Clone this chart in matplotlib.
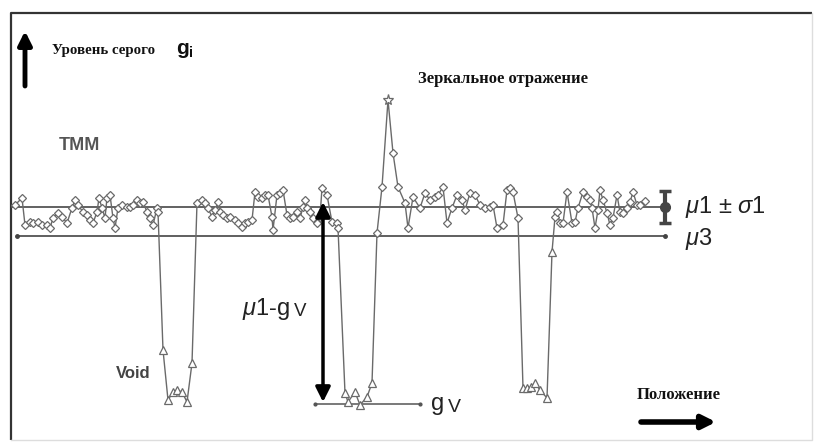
"""Schematic grey-level profile across a weld section: TMM baseline, voids, specular peak."""
import numpy as np
import matplotlib
matplotlib.use("Agg")
import matplotlib.pyplot as plt

plt.rcParams["font.family"] = ["Liberation Sans", "DejaVu Sans"]
plt.rcParams["mathtext.fontset"] = "custom"
plt.rcParams["mathtext.rm"] = "Liberation Sans"
plt.rcParams["mathtext.it"] = "Liberation Sans:italic"
plt.rcParams["mathtext.bf"] = "Liberation Sans:bold"

# position along the line (arb. units) and grey level g_i
POS = [15, 22, 25, 30, 33, 38, 42, 47, 50, 53, 58, 62, 67, 72, 75, 78, 83, 87, 90, 93,
       97, 99, 102, 105, 107, 110, 113, 115, 118, 122, 127, 130, 133, 137, 140, 143, 147,
       150, 153, 157, 158,
       163, 168, 173, 177, 182, 187, 192,
       197, 202, 205, 208, 212, 215, 218, 220, 223, 227, 230, 235, 238, 242, 245, 248, 252,
       255, 258, 262, 265, 268, 272, 273, 277, 280, 283, 287, 290, 293, 297, 300, 303, 305,
       307, 310, 313, 317, 320, 322, 327, 332, 337, 338,
       345, 348, 355, 360, 367, 372,
       377, 382, 388, 393, 398, 405, 408, 413, 420, 425, 430, 435, 438, 443, 447, 452, 457,
       462, 465, 470, 475, 480, 485, 490, 493, 497, 503, 507, 510, 513, 518,
       523, 527, 531, 535, 540, 547, 552,
       555, 557, 560, 563, 567, 572, 575, 578, 583, 587, 590, 592, 595, 598, 600, 603, 607,
       610, 613, 617, 620, 623, 627, 630, 633, 637, 640, 645]
GREY = [238, 245, 218, 221, 220, 221, 218, 218, 215, 225, 230, 226, 220, 235, 243, 238,
        231, 228, 223, 220, 231, 245, 235, 225, 245, 248, 225, 215, 235, 238, 236, 236, 238,
        243, 240, 241, 231, 225, 218, 235, 231,
        93, 43, 51, 53, 51, 41, 80,
        240, 243, 240, 235, 226, 233, 241, 231, 228, 225, 226, 223, 220, 216, 220, 221, 223,
        251, 246, 245, 248, 248, 226, 213, 248, 250, 253, 228, 225, 226, 231, 225, 236, 243,
        235, 231, 225, 220, 226, 255, 248, 221, 220, 215,
        50, 41, 51, 38, 46, 60,
        210, 256, 343, 290, 256, 240, 215, 246, 235, 250, 243, 246, 248, 256, 220, 235, 248,
        243, 233, 250, 248, 238, 235, 236, 238, 215, 218, 253, 255, 251, 225,
        55, 55, 56, 60, 53, 45, 191,
        226, 231, 220, 220, 251, 220, 221, 235, 251, 246, 243, 235, 215, 233, 253, 243, 230,
        218, 225, 248, 231, 230, 235, 241, 251, 238, 238, 242]

MU1, SIGMA1 = 236, 16     # mean +/- std of the TMM grey level
MU3 = 207                 # detection threshold
GV = 39                   # grey level of the void
PEAK_MIN = 300            # above this: specular reflection

pos = np.array(POS)
grey = np.array(GREY)

fig = plt.figure(figsize=(8.16, 4.43), dpi=100)
ax = fig.add_axes([0, 0, 1, 1])
ax.set_xlim(0, 816)
ax.set_ylim(0, 443)
ax.axis("off")

# frame
ax.plot([11, 11, 812], [3, 430, 430], color="#333333", lw=1.6, solid_capstyle="butt")
ax.plot([812, 812, 11], [430, 3, 3], color="#dddddd", lw=1.0)

# reference levels
ax.plot([12, 665], [MU1, MU1], color="#555555", lw=1.3)
ax.plot([17, 665], [MU3, MU3], color="#444444", lw=1.2, marker="o", ms=2.5)
ax.errorbar([665], [MU1], yerr=SIGMA1, fmt="o", ms=7, color="#444444",
            elinewidth=3, capsize=4, capthick=2.5)
ax.plot([315, 420], [GV, GV], color="#555555", lw=1.1, marker="o", ms=2)

# the profile
ax.plot(pos, grey, color="#6a6a6a", lw=1.0, zorder=3)
mk = dict(mfc="white", mec="#6a6a6a", mew=0.9, ls="none", zorder=4)
base = (grey >= MU3) & (grey < PEAK_MIN)
ax.plot(pos[base], grey[base], marker="D", ms=4, **mk)
ax.plot(pos[grey < MU3], grey[grey < MU3], marker="^", ms=6, **mk)
ax.plot(pos[grey >= PEAK_MIN], grey[grey >= PEAK_MIN], marker="*", ms=8, **mk)

# mu1 - gv span
ax.annotate("", xy=(323, GV + 2), xytext=(323, MU1 + 5),
            arrowprops=dict(arrowstyle="<|-|>", lw=2.5, color="black",
                            mutation_scale=22, shrinkA=0, shrinkB=0), zorder=5)

# axis arrows
ax.annotate("", xy=(25, 412), xytext=(25, 357),
            arrowprops=dict(arrowstyle="-|>", lw=3.5, color="black",
                            mutation_scale=20, shrinkA=0, shrinkB=0))
ax.annotate("", xy=(716, 21), xytext=(641, 21),
            arrowprops=dict(arrowstyle="-|>", lw=4, color="black",
                            mutation_scale=20, shrinkA=0, shrinkB=0))

serif = dict(family=["Liberation Serif", "DejaVu Serif"], fontweight="bold",
             color="#111111", va="center")
ax.text(52, 393, "Уровень серого", fontsize=10.7, **serif)
ax.text(176, 393, r"$\mathbf{g}_\mathbf{i}$", fontsize=15, va="center", color="#111111")
ax.text(418, 364, "Зеркальное отражение", fontsize=12, **serif)
ax.text(637, 48, "Положение", fontsize=12, **serif)

ax.text(59, 298, "TMM", fontsize=13, fontweight="bold", color="#555555", va="center")
ax.text(116, 70, "Void", fontsize=12, fontweight="bold", color="#444444", va="center")

greek = dict(fontsize=17, color="#222222", va="center")
ax.text(685, MU1, r"$\mu$1 $\pm$ $\sigma$1", **greek)
ax.text(685, MU3 - 3, r"$\mu$3", **greek)
ax.text(242, 134, r"$\mu$1-g", **greek)
ax.text(294, 131, "V", fontsize=13.5, color="#222222", va="center")
ax.text(431, GV, "g", **greek)
ax.text(448, GV - 3, "V", fontsize=14, color="#222222", va="center")

fig.savefig("out.png", dpi=100)
